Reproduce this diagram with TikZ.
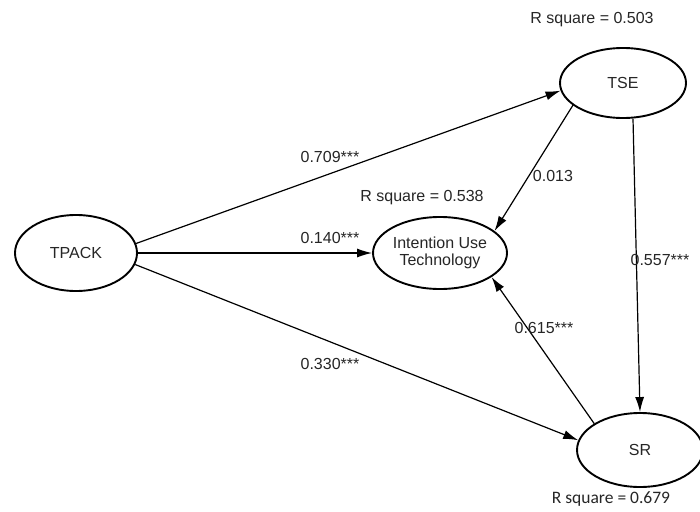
\documentclass[tikz,border=0pt]{standalone}
\usepackage{fontspec}
\setmainfont{Liberation Sans}
\newfontfamily\calfont{Carlito}
\usetikzlibrary{shapes.geometric,arrows.meta}
\definecolor{txt}{HTML}{262626}
\tikzset{
  lv/.style={ellipse,draw=black,line width=1.9pt,inner sep=0pt,text=txt,font=\fontsize{16}{18}\selectfont,align=center},
  path/.style={line width=1.2pt,-{Latex[length=15pt,width=9pt]}},
  lbl/.style={text=txt,font=\fontsize{16}{18}\selectfont,inner sep=0pt},
}
\begin{document}
\begin{tikzpicture}[x=1pt,y=-1pt]
\useasboundingbox (0,0) rectangle (700,511);
\fill[white] (0,0) rectangle (700,511);
\node[lv,minimum width=122pt,minimum height=76pt] (tpack) at (76,253) {TPACK};
\node[lv,minimum width=126pt,minimum height=70pt] (tse) at (623,83) {TSE};
\node[lv,minimum width=134pt,minimum height=72pt] (iut) at (440,253) {Intention Use\\[-1pt]Technology};
\node[lv,minimum width=126pt,minimum height=74pt] (sr) at (640,450) {SR};

\draw[path] (tpack.9) -- (tse.187);
\draw[path] (tpack.east) -- (iut.west);
\draw[path] (tpack.-11) -- (sr.171);
\draw[path] (tse.204) -- (iut.22);
\draw[path] ([xshift=10pt]tse.south) -- (sr.north);
\draw[path] (sr.150) -- (iut.-25);

\node[lbl] (r1) at (592,20) {R square = 0.503};
\node[lbl] (r2) at (422,198) {R square = 0.538};
\node[lbl,font=\calfont\fontsize{17.5}{19}\selectfont] (r3) at (611,499) {R square = 0.679};
\node[lbl] (l1) at (330,157) {0.709***};
\node[lbl] (l2) at (330,238) {0.140***};
\node[lbl] (l3) at (330,364) {0.330***};
\node[lbl] (l4) at (553,176) {0.013};
\node[lbl] (l5) at (660,260) {0.557***};
\node[lbl] (l6) at (544,328) {0.615***};
\end{tikzpicture}
\end{document}
